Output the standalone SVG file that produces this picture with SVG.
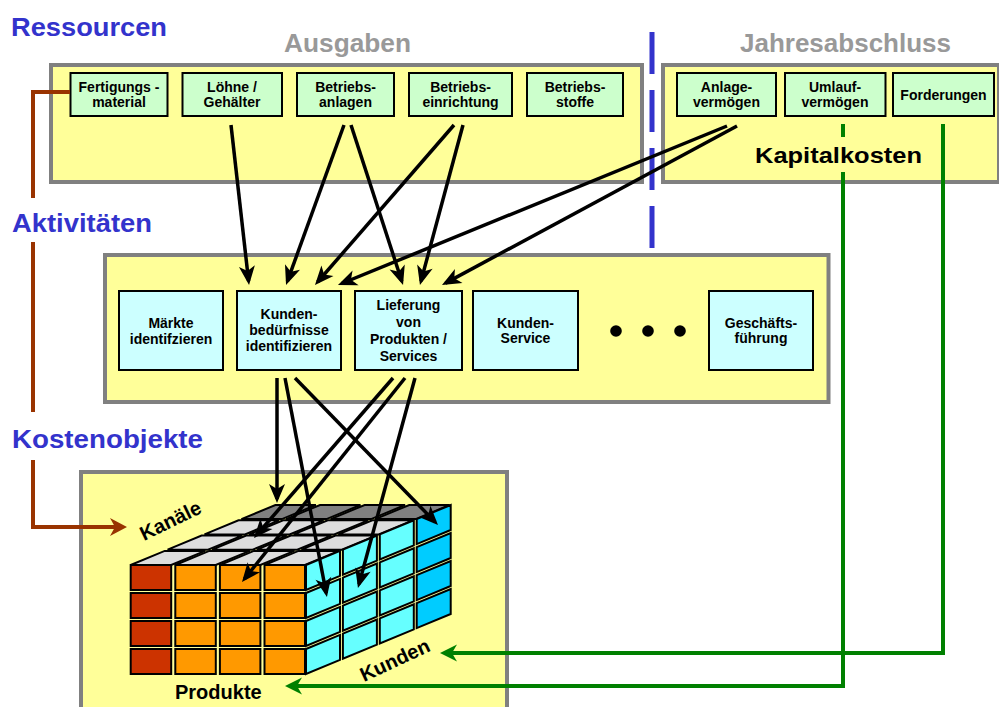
<svg xmlns="http://www.w3.org/2000/svg" width="999" height="707" viewBox="0 0 999 707">
<style>
text{font-family:"Liberation Sans",Arial,sans-serif;font-weight:bold}
.head{font-size:25px;fill:#3333CC}
.sub{font-size:26px;fill:#999999}
.lbl{font-size:14px;fill:#000;text-anchor:middle}
.cont{fill:#FFFF99;stroke:#808080;stroke-width:4}
.gbox{fill:#CCFFCC;stroke:#000;stroke-width:2}
.abox{fill:#CCFFFF;stroke:#000;stroke-width:2}
.cell{stroke:#000;stroke-width:2;stroke-linejoin:miter}
.red{fill:#CC3300}.ora{fill:#FF9900}.lg{fill:#DDDDDD}.dg{fill:#808080}.cy{fill:#66FFFF}.dc{fill:#00CCFF}
.cube{font-size:20px;fill:#000}
.blk{fill:none;stroke:#000;stroke-width:3.5;marker-end:url(#ab)}
.grn{fill:none;stroke:#008000;stroke-width:4;marker-end:url(#ag)}
.brn{fill:none;stroke:#993300;stroke-width:4;marker-end:url(#ar)}
</style>
<defs>
<marker id="ab" markerUnits="userSpaceOnUse" markerWidth="30" markerHeight="30" viewBox="-20 -10 30 20" refX="0" refY="0" orient="auto"><path d="M4,0 L-15,-8 L-10,0 L-15,8 Z" fill="#000"/></marker>
<marker id="ag" markerUnits="userSpaceOnUse" markerWidth="30" markerHeight="30" viewBox="-20 -10 30 20" refX="0" refY="0" orient="auto"><path d="M4,0 L-13,-8.5 L-8,0 L-13,8.5 Z" fill="#008000"/></marker>
<marker id="ar" markerUnits="userSpaceOnUse" markerWidth="30" markerHeight="30" viewBox="-20 -10 30 20" refX="0" refY="0" orient="auto"><path d="M4,0 L-13,-9 L-8,0 L-13,9 Z" fill="#993300"/></marker>
</defs>
<rect width="999" height="707" fill="#fff"/>

<g id="headings">
<text class="head" x="11" y="36" textLength="156" lengthAdjust="spacingAndGlyphs">Ressourcen</text>
<text class="head" x="12" y="232" textLength="140" lengthAdjust="spacingAndGlyphs">Aktivitäten</text>
<text class="head" x="12" y="448" textLength="191" lengthAdjust="spacingAndGlyphs">Kostenobjekte</text>
<text class="sub" x="284" y="52" textLength="127" lengthAdjust="spacingAndGlyphs">Ausgaben</text>
<text class="sub" x="740" y="52" textLength="211" lengthAdjust="spacingAndGlyphs">Jahresabschluss</text>
</g>

<g id="divider">
<line x1="652" y1="32" x2="652" y2="248" stroke="#3333CC" stroke-width="5" stroke-dasharray="42 16"/>
</g>

<g id="ausgaben"><rect class="cont" x="51" y="65" width="591" height="117"/></g>
<g id="jahresabschluss"><rect class="cont" x="663" y="65" width="336" height="117"/></g>
<g id="aktivitaeten"><rect class="cont" x="105" y="255" width="723.5" height="147"/></g>
<g id="kostenobjekte"><rect class="cont" x="81" y="472" width="426" height="250"/></g>

<g id="fertigungsmaterial"><rect class="gbox" x="70.5" y="73" width="97" height="43"/><text class="lbl" x="119" y="92">Fertigungs -</text><text class="lbl" x="119" y="107">material</text></g>
<g id="loehne"><rect class="gbox" x="182.5" y="73" width="99.5" height="43"/><text class="lbl" x="232" y="92">Löhne /</text><text class="lbl" x="232" y="107">Gehälter</text></g>
<g id="betriebsanlagen"><rect class="gbox" x="297" y="73" width="97" height="43"/><text class="lbl" x="345.5" y="92">Betriebs-</text><text class="lbl" x="345.5" y="107">anlagen</text></g>
<g id="betriebseinrichtung"><rect class="gbox" x="409" y="73" width="103" height="43"/><text class="lbl" x="460.5" y="92">Betriebs-</text><text class="lbl" x="460.5" y="107">einrichtung</text></g>
<g id="betriebsstoffe"><rect class="gbox" x="527" y="73" width="96" height="43"/><text class="lbl" x="575" y="92">Betriebs-</text><text class="lbl" x="575" y="107">stoffe</text></g>
<g id="anlagevermoegen"><rect class="gbox" x="677" y="73" width="99" height="43"/><text class="lbl" x="726.5" y="92">Anlage-</text><text class="lbl" x="726.5" y="107">vermögen</text></g>
<g id="umlaufvermoegen"><rect class="gbox" x="785" y="73" width="100.5" height="43"/><text class="lbl" x="835" y="92">Umlauf-</text><text class="lbl" x="835" y="107">vermögen</text></g>
<g id="forderungen"><rect class="gbox" x="893" y="73" width="101" height="43"/><text class="lbl" x="943.5" y="100">Forderungen</text></g>

<g id="maerkte"><rect class="abox" x="119" y="291" width="104" height="79"/><text class="lbl" x="171" y="328">Märkte</text><text class="lbl" x="171" y="344">identifzieren</text></g>
<g id="kundenbeduerfnisse"><rect class="abox" x="237" y="291" width="104" height="79"/><text class="lbl" x="289" y="319">Kunden-</text><text class="lbl" x="289" y="335">bedürfnisse</text><text class="lbl" x="289" y="351">identifizieren</text></g>
<g id="lieferung"><rect class="abox" x="355" y="291" width="107" height="79"/><text class="lbl" x="408.5" y="310">Lieferung</text><text class="lbl" x="408.5" y="327">von</text><text class="lbl" x="408.5" y="344">Produkten /</text><text class="lbl" x="408.5" y="361">Services</text></g>
<g id="kundenservice"><rect class="abox" x="473" y="291" width="105" height="79"/><text class="lbl" x="525.5" y="328">Kunden-</text><text class="lbl" x="525.5" y="343">Service</text></g>
<g id="ellipsis"><circle cx="616" cy="331" r="5.8"/><circle cx="648" cy="331" r="5.8"/><circle cx="680" cy="331" r="5.8"/></g>
<g id="geschaeftsfuehrung"><rect class="abox" x="709" y="291" width="104" height="79"/><text class="lbl" x="761" y="328">Geschäfts-</text><text class="lbl" x="761" y="343">führung</text></g>

<g id="cube">
<g class="cell">
<polygon class="lg" points="130.7,565 171.2,565 205.2,550.9 164.7,550.9"/>
<polygon class="lg" points="175.3,565 215.8,565 249.8,550.9 209.3,550.9"/>
<polygon class="lg" points="219.9,565 260.4,565 294.4,550.9 253.9,550.9"/>
<polygon class="lg" points="264.5,565 305,565 339,550.9 298.5,550.9"/>
<polygon class="lg" points="167.6,549.7 208.1,549.7 242.1,535.6 201.6,535.6"/>
<polygon class="lg" points="212.2,549.7 252.7,549.7 286.7,535.6 246.2,535.6"/>
<polygon class="lg" points="256.8,549.7 297.3,549.7 331.3,535.6 290.8,535.6"/>
<polygon class="lg" points="301.4,549.7 341.9,549.7 375.9,535.6 335.4,535.6"/>
<polygon class="lg" points="204.5,534.4 245,534.4 279,520.3 238.5,520.3"/>
<polygon class="lg" points="249.1,534.4 289.6,534.4 323.6,520.3 283.1,520.3"/>
<polygon class="lg" points="293.7,534.4 334.2,534.4 368.2,520.3 327.7,520.3"/>
<polygon class="lg" points="338.3,534.4 378.8,534.4 412.8,520.3 372.3,520.3"/>
<polygon class="dg" points="241.4,519.1 281.9,519.1 315.9,505 275.4,505"/>
<polygon class="dg" points="286,519.1 326.5,519.1 360.5,505 320,505"/>
<polygon class="dg" points="330.6,519.1 371.1,519.1 405.1,505 364.6,505"/>
<polygon class="dg" points="375.2,519.1 415.7,519.1 449.7,505 409.2,505"/>

<rect class="red" x="130.7" y="565" width="40.5" height="25"/>
<rect class="red" x="130.7" y="593" width="40.5" height="25"/>
<rect class="red" x="130.7" y="621" width="40.5" height="25"/>
<rect class="red" x="130.7" y="649" width="40.5" height="25"/>
<rect class="ora" x="175.3" y="565" width="40.5" height="25"/>
<rect class="ora" x="175.3" y="593" width="40.5" height="25"/>
<rect class="ora" x="175.3" y="621" width="40.5" height="25"/>
<rect class="ora" x="175.3" y="649" width="40.5" height="25"/>
<rect class="ora" x="219.9" y="565" width="40.5" height="25"/>
<rect class="ora" x="219.9" y="593" width="40.5" height="25"/>
<rect class="ora" x="219.9" y="621" width="40.5" height="25"/>
<rect class="ora" x="219.9" y="649" width="40.5" height="25"/>
<rect class="ora" x="264.5" y="565" width="40.5" height="25"/>
<rect class="ora" x="264.5" y="593" width="40.5" height="25"/>
<rect class="ora" x="264.5" y="621" width="40.5" height="25"/>
<rect class="ora" x="264.5" y="649" width="40.5" height="25"/>

<polygon class="cy" points="306,565 340,550.9 340,575.9 306,590"/>
<polygon class="cy" points="306,593 340,578.9 340,603.9 306,618"/>
<polygon class="cy" points="306,621 340,606.9 340,631.9 306,646"/>
<polygon class="cy" points="306,649 340,634.9 340,659.9 306,674"/>
<polygon class="cy" points="342.9,549.7 376.9,535.6 376.9,560.6 342.9,574.7"/>
<polygon class="cy" points="342.9,577.7 376.9,563.6 376.9,588.6 342.9,602.7"/>
<polygon class="cy" points="342.9,605.7 376.9,591.6 376.9,616.6 342.9,630.7"/>
<polygon class="cy" points="342.9,633.7 376.9,619.6 376.9,644.6 342.9,658.7"/>
<polygon class="cy" points="379.8,534.4 413.8,520.3 413.8,545.3 379.8,559.4"/>
<polygon class="cy" points="379.8,562.4 413.8,548.3 413.8,573.3 379.8,587.4"/>
<polygon class="cy" points="379.8,590.4 413.8,576.3 413.8,601.3 379.8,615.4"/>
<polygon class="cy" points="379.8,618.4 413.8,604.3 413.8,629.3 379.8,643.4"/>
<polygon class="dc" points="416.7,519.1 450.7,505 450.7,530 416.7,544.1"/>
<polygon class="dc" points="416.7,547.1 450.7,533 450.7,558 416.7,572.1"/>
<polygon class="dc" points="416.7,575.1 450.7,561 450.7,586 416.7,600.1"/>
<polygon class="dc" points="416.7,603.1 450.7,589 450.7,614 416.7,628.1"/>
</g>
<text class="cube" transform="translate(144,541) rotate(-26)">Kanäle</text>
<text class="cube" transform="translate(364,682) rotate(-25)">Kunden</text>
<text class="cube" x="175" y="699" font-size="21">Produkte</text>
</g>

<g id="connectors">
<path class="brn" d="M70,92 H33 V198 M33,242 V412 M33,460 V527 H123"/>
<path class="grn" d="M843,124 V686 H289"/>
<path class="grn" d="M943,124 V653 H444"/>
<path class="blk" d="M231,125 L248.6,281"/>
<path class="blk" d="M344,125 L287.4,281.2"/>
<path class="blk" d="M351,125 L401.8,281.2"/>
<path class="blk" d="M454,125 L317.6,282"/>
<path class="blk" d="M463,125 L421,281.1"/>
<path class="blk" d="M727,126 L341.7,283.5"/>
<path class="blk" d="M737,126 L445.5,283.1"/>
<path class="blk" d="M277,378 L277,499"/>
<path class="blk" d="M285,378 L326.2,593"/>
<path class="blk" d="M295,378 L435.2,522.1"/>
<path class="blk" d="M393,378 L256.6,535"/>
<path class="blk" d="M405,378 L244.5,578.9"/>
<path class="blk" d="M415,378 L359,584.1"/>
</g>

<g id="kapitalkosten">
<rect x="752" y="137" width="174" height="35" fill="#FFFF99"/>
<text x="755" y="163" font-size="22" textLength="167" lengthAdjust="spacingAndGlyphs">Kapitalkosten</text>
</g>
</svg>
